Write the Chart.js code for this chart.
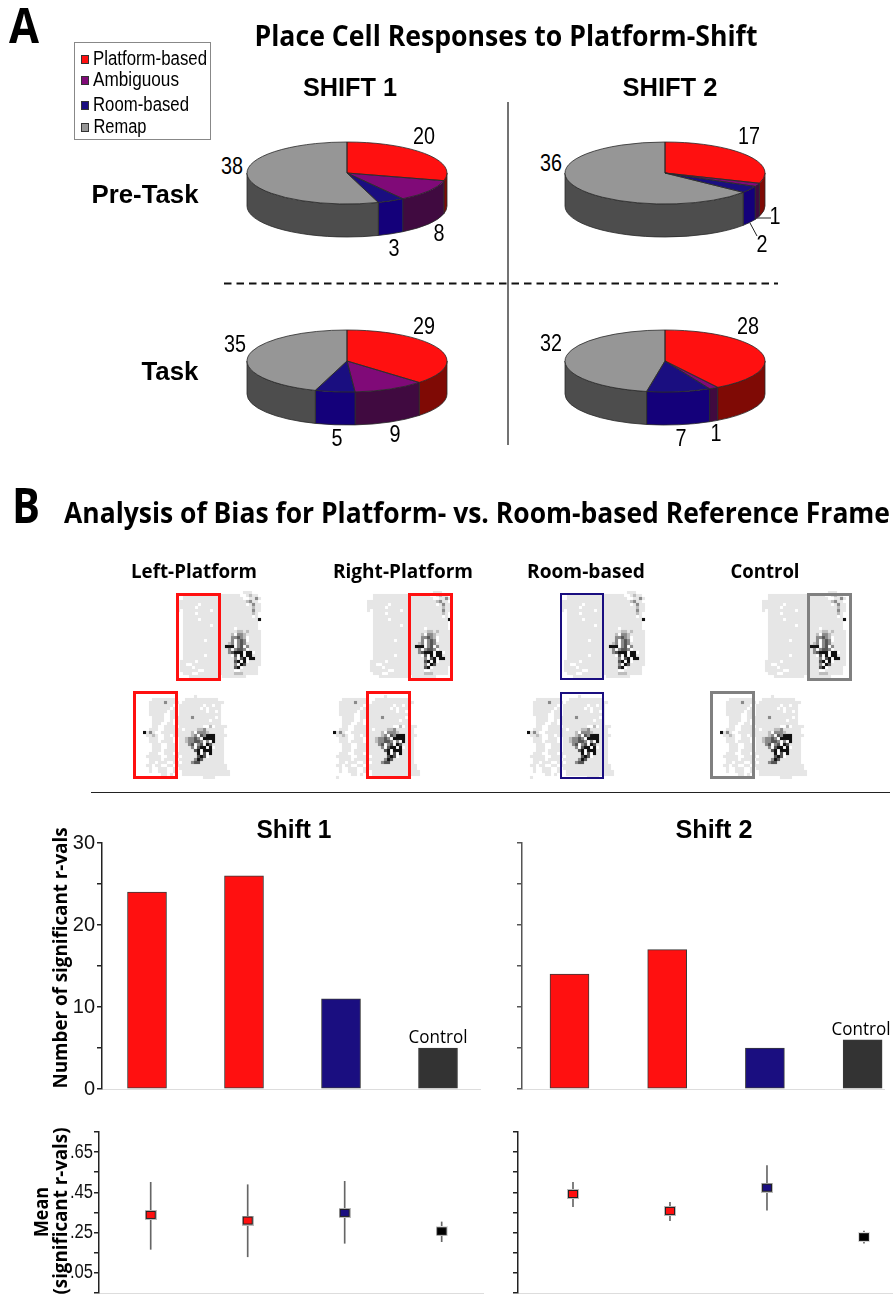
<!DOCTYPE html>
<html>
<head>
<meta charset="utf-8">
<title>Place Cell Responses to Platform-Shift</title>
<script src="https://cdn.jsdelivr.net/npm/chart.js@4/dist/chart.umd.js"></script>
<style>
    html, body { margin: 0; padding: 0; background: #fff; }
    #page { position: relative; width: 893px; height: 1298px; overflow: hidden; background: #fff; }
    #page canvas { position: absolute; }
    .txt { position: absolute; white-space: nowrap; line-height: 1; color: #000; }
    .box { position: absolute; box-sizing: border-box; }
</style>
</head>
<body>
<div id="page"></div>
<script>
// pie data
const pieCategories = ["Platform-based", "Ambiguous", "Room-based", "Remap"];
const preTaskShift1 = [20, 8, 3, 38];
const preTaskShift2 = [17, 1, 2, 36];
const taskShift1 = [29, 9, 5, 35];
const taskShift2 = [28, 1, 7, 32];

// bar data
const barCategories = ["Left-Platform", "Right-Platform", "Room-based", "Control"];
const barShift1 = [24, 26, 11, 5];
const barShift2 = [14, 17, 5, 6];
const barTickLabels = [0, 10, 20, 30];

// mean r-val data
const meanShift1 = [0.338, 0.31, 0.348, 0.257];
const lowShift1 = [0.167, 0.13, 0.197, 0.205];
const highShift1 = [0.5, 0.488, 0.505, 0.303];
const meanShift2 = [0.442, 0.358, 0.473, 0.228];
const lowShift2 = [0.379, 0.309, 0.362, 0.198];
const highShift2 = [0.5, 0.4, 0.583, 0.258];
const meanTickValues = [0.05, 0.25, 0.45, 0.65];
const meanTickLabels = [".05", ".25", ".45", ".65"];

// firing rate maps, one char per cell: blank = not visited, . = visited, 1-4 = rate
const mapTop = [
    "                      ...   ",
    "  ...................  .1.. ",
    "  ....................  ..2.",
    ".......................12..",
    "....... ............... .2..",
    "...... ..................1..",
    ". ......... .............2..",
    "  .... ..................1. ",
    "  ....................... . ",
    "  ..... ...................4",
    "  .........................",
    "  ......... ............... ",
    "  ................. ....... ",
    "  ..................11.1....",
    "  ................1 221.....",
    "  ................22321 ....",
    "  ....... ........2 232 ....",
    "  ...............12 232.....",
    "  ..............444 23 2....",
    "  ...............2 2332 ....",
    "  ...............23444 44 ..",
    "  ....... ........ 3 4 44...",
    "  .................2 34 44..",
    " ..... ............34 4 ....",
    " ..  ..............2 43.....",
    " .... .............34 .....",
    " ......  ..........  ......",
    "  ...  ............111.....",
    "    .......... ........    ",
];
const mapBottom = [
    "                            ",
    "                 .          ",
    "   ........   ...........   ",
    "  .....2.... ..............",
    "  ........  ........ .. ..",
    "  ....... . ....... . ....",
    "  ...... .. ......... .. .",
    "  .....  .. ..............",
    "   ....  .......2....... .",
    "   ....  . ........... ...",
    "   ...  .. ...............",
    "   ..  .... ........  1 ....",
    "  ...  ...... ....112......",
    "4.2.  ..........1 2221.....",
    " ..1.  .. ......12 32444....",
    "  ...  ...  ..12232 4444...",
    "  ... ....  ..122332 2 4...",
    "   ...  ... ...23 23 43....",
    "   ...  ... ....2 344 4 ...",
    "   ... .... .....34 444....",
    "  ...  ... .......4 3 4....",
    " .....  .... .....343 .....",
    "  .... .... .....243.......",
    "  .. ...  .. ...233........",
    " .. ..  .. .................",
    "  .  ...  . ................",
    "  .  ...  .  ................",
    "      .. .   ................",
    " .                  ....    ",
];

const RED = "#ff1010";
const PURPLE = "#800a78";
const NAVY = "#1a0e80";
const GRAY = "#969696";
const pieColors = [RED, PURPLE, NAVY, GRAY];
const pieSideColors = ["#7f0a05", "#400a40", "#14007a", "#4d4d4d"];
const barColors = [RED, RED, NAVY, "#333333"];
const mapColors = { ".": "#e6e6e6", "1": "#bdbdbd", "2": "#8a8a8a", "3": "#555555", "4": "#111111" };

const SANS = '"Liberation Sans", Arial, sans-serif';
const OPEN = '"Open Sans", sans-serif';

Chart.defaults.animation = false;
Chart.defaults.events = [];
Chart.defaults.plugins.legend.display = false;
Chart.defaults.plugins.tooltip.enabled = false;
Chart.defaults.responsive = false;
Chart.defaults.maintainAspectRatio = false;

const page = document.getElementById("page");

function addCanvas(left, top, width, height) {
    const c = document.createElement("canvas");
    c.width = width;
    c.height = height;
    c.style.left = left + "px";
    c.style.top = top + "px";
    c.style.width = width + "px";
    c.style.height = height + "px";
    page.appendChild(c);
    return c;
}

// text is centred on cx,cy and stretched to targetWidth
function addText(text, cx, cy, size, weight, family, targetWidth, rotate) {
    const s = document.createElement("span");
    s.className = "txt";
    s.textContent = text;
    s.style.fontSize = size + "px";
    s.style.fontWeight = weight;
    s.style.fontFamily = family;
    s.style.left = cx + "px";
    s.style.top = cy + "px";
    page.appendChild(s);
    const sx = targetWidth ? targetWidth / s.getBoundingClientRect().width : 1;
    s.style.transform = `translate(-50%,-50%) rotate(${rotate || 0}deg) scaleX(${sx})`;
}

function addBox(left, top, width, height, css) {
    const d = document.createElement("div");
    d.className = "box";
    d.style.left = left + "px";
    d.style.top = top + "px";
    d.style.width = width + "px";
    d.style.height = height + "px";
    d.style.cssText += css;
    page.appendChild(d);
    return d;
}

// pie section
const SQUASH = 0.31;
const DEPTH = 33;

const piePlugin = {
    id: "pie3d",
    beforeDatasetsDraw(chart) {
        const ctx = chart.ctx;
        const arcs = chart.getDatasetMeta(0).data;
        const { x, y, outerRadius: r } = arcs[0];
        ctx.save();
        arcs.forEach((arc, i) => {
            const a = Math.max(arc.startAngle, 0);
            const b = Math.min(arc.endAngle, Math.PI);
            if (a >= b) return;
            ctx.beginPath();
            ctx.ellipse(x, y, r, r * SQUASH, 0, a, b);
            ctx.ellipse(x, y + DEPTH, r, r * SQUASH, 0, b, a, true);
            ctx.closePath();
            ctx.fillStyle = pieSideColors[i];
            ctx.fill();
            ctx.lineWidth = 0.8;
            ctx.strokeStyle = "#2a2a2a";
            ctx.stroke();
        });
        ctx.restore();
        ctx.save();
        ctx.translate(x, y);
        ctx.scale(1, SQUASH);
        ctx.translate(-x, -y);
    },
    afterDatasetsDraw(chart) {
        const ctx = chart.ctx;
        ctx.restore();
        const arcs = chart.getDatasetMeta(0).data;
        ctx.save();
        ctx.lineWidth = 0.8;
        ctx.strokeStyle = "#2a2a2a";
        arcs.forEach((arc) => {
            ctx.beginPath();
            ctx.moveTo(arc.x, arc.y);
            ctx.ellipse(arc.x, arc.y, arc.outerRadius, arc.outerRadius * SQUASH, 0, arc.startAngle, arc.endAngle);
            ctx.closePath();
            ctx.stroke();
        });
        ctx.restore();
    },
};

function drawPie(values, cx, cy) {
    const canvas = addCanvas(cx - 102, cy - 102, 204, 204);
    new Chart(canvas, {
        type: "pie",
        data: {
            labels: pieCategories,
            datasets: [{ data: values, backgroundColor: pieColors, borderWidth: 0 }],
        },
        options: { layout: { padding: 2 } },
        plugins: [piePlugin],
    });
}

drawPie(preTaskShift1, 347, 173);
drawPie(preTaskShift2, 665, 173);
drawPie(taskShift1, 347, 361);
drawPie(taskShift2, 665, 361);

function pieLabel(value, cx, cy) {
    addText(String(value), cx, cy, 23, 400, SANS, String(value).length * 11);
}
pieLabel(preTaskShift1[0], 424, 136);
pieLabel(preTaskShift1[1], 439, 233);
pieLabel(preTaskShift1[2], 394, 248);
pieLabel(preTaskShift1[3], 232, 166);
pieLabel(preTaskShift2[0], 749, 136);
pieLabel(preTaskShift2[1], 775, 216);
pieLabel(preTaskShift2[2], 762, 244);
pieLabel(preTaskShift2[3], 551, 163);
pieLabel(taskShift1[0], 424, 326);
pieLabel(taskShift1[1], 395, 434);
pieLabel(taskShift1[2], 337, 438);
pieLabel(taskShift1[3], 235, 344);
pieLabel(taskShift2[0], 748, 326);
pieLabel(taskShift2[1], 716, 433);
pieLabel(taskShift2[2], 681, 438);
pieLabel(taskShift2[3], 551, 343);

// leader lines, divider lines
page.insertAdjacentHTML("beforeend", `
<svg width="893" height="1298" style="position:absolute;left:0;top:0;pointer-events:none">
    <line x1="757" y1="218" x2="771" y2="218" stroke="#222" stroke-width="1"/>
    <line x1="750" y1="223" x2="757" y2="236" stroke="#222" stroke-width="1"/>
    <line x1="508" y1="102" x2="508" y2="445" stroke="#444" stroke-width="1.5"/>
    <line x1="224" y1="283.5" x2="778" y2="283.5" stroke="#111" stroke-width="2" stroke-dasharray="7.5 5"/>
    <line x1="91" y1="792.5" x2="890" y2="792.5" stroke="#222" stroke-width="1"/>
</svg>`);

// legend
addBox(74, 42, 137, 98, "border:1px solid #888;background:#fff;");
const legendY = [59, 80, 105, 127];
const legendW = [114, 86, 96, 53];
pieCategories.forEach((name, i) => {
    addBox(81, legendY[i] - 4, 8, 9, `background:${pieColors[i]};border:1px solid #333;`);
    addText(name, 93 + legendW[i] / 2, legendY[i] - 1, 20, 400, SANS, legendW[i]);
});

// headings
addText("A", 24, 24, 49, 700, OPEN, 30);
addText("B", 26, 504, 49, 700, OPEN, 28);
addText("Place Cell Responses to Platform-Shift", 506, 35, 28, 700, OPEN, 503);
addText("SHIFT 1", 350, 87, 25, 700, SANS, 94);
addText("SHIFT 2", 670, 87, 25, 700, SANS, 95);
addText("Pre-Task", 145, 194, 25, 700, SANS, 107);
addText("Task", 170, 371, 25, 700, SANS, 57);
addText("Analysis of Bias for Platform- vs. Room-based Reference Frame", 477, 512, 28, 700, OPEN, 826);
addText("Left-Platform", 194, 571, 19, 700, OPEN, 126);
addText("Right-Platform", 403, 571, 19, 700, OPEN, 140);
addText("Room-based", 586, 571, 19, 700, OPEN, 118);
addText("Control", 765, 571, 19, 700, OPEN, 69);
addText("Shift 1", 294, 829, 25, 700, SANS, 75);
addText("Shift 2", 714, 829, 25, 700, SANS, 77);
addText("Number of significant r-vals", 60, 958, 20, 700, OPEN, 261, -90);
addText("Mean", 41, 1212, 19, 700, OPEN, 50, -90);
addText("(significant r-vals)", 60, 1211, 19, 700, OPEN, 167, -90);
addText("Control", 438, 1036, 19, 400, OPEN, 59);
addText("Control", 861, 1028, 19, 400, OPEN, 59);

// firing rate maps
function mapDatasets(rows) {
    return Object.keys(mapColors).map((key) => {
        const cells = [];
        rows.forEach((row, r) => {
            row.split("").forEach((ch, c) => {
                if (ch === key) cells.push({ x: c, y: r });
            });
        });
        return { data: cells, backgroundColor: mapColors[key], pointStyle: "rect", pointRadius: 2.2, borderWidth: 0 };
    });
}

function drawMap(rows, left, top) {
    const canvas = addCanvas(left, top, 90, 87);
    canvas.style.filter = "blur(0.5px)";
    new Chart(canvas, {
        type: "scatter",
        data: { datasets: mapDatasets(rows) },
        options: {
            layout: { autoPadding: false },
            scales: {
                x: { display: false, min: -0.5, max: 29.5 },
                y: { display: false, min: -0.5, max: 28.5, reverse: true },
            },
        },
    });
}

[177, 367, 561, 762].forEach((left) => drawMap(mapTop, left, 591));
[143, 333, 527, 720].forEach((left) => drawMap(mapBottom, left, 692));

const frames = [
    [176, 593, 45, 88, RED, 3],
    [133, 691, 45, 88, RED, 3],
    [408, 593, 45, 88, RED, 3],
    [366, 691, 45, 88, RED, 3],
    [560, 593, 44, 87, NAVY, 2],
    [560, 692, 44, 87, NAVY, 2],
    [807, 593, 45, 88, "#808080", 3],
    [710, 691, 45, 88, "#808080", 3],
];
frames.forEach((f) => addBox(f[0], f[1], f[2], f[3], `border:${f[5]}px solid ${f[4]};`));

// bar charts
function drawBars(values, place) {
    const canvas = addCanvas(place.left, 823, place.width, 286);
    new Chart(canvas, {
        type: "bar",
        data: {
            datasets: [{
                label: "Number of significant r-vals",
                data: values.map((v, i) => ({ x: i, y: v })),
                backgroundColor: barColors,
                borderColor: "#3a3a3a",
                borderWidth: 1,
                barThickness: 39,
                borderSkipped: false,
            }],
        },
        options: {
            layout: { autoPadding: false, padding: { top: 20, bottom: 20, left: 0, right: place.padRight } },
            scales: {
                x: {
                    type: "linear",
                    offset: false,
                    min: place.xMin,
                    max: place.xMax,
                    grid: { display: false },
                    border: { color: "#dddddd", width: 1 },
                    ticks: { display: false },
                    afterFit: (scale) => { scale.height = 0; },
                },
                y: {
                    min: 0,
                    max: 30,
                    grid: { drawOnChartArea: false, tickLength: 5, color: place.axisColor, lineWidth: 1.5 },
                    border: { color: place.axisColor, width: 1.5 },
                    ticks: {
                        stepSize: 5,
                        autoSkip: false,
                        padding: 2,
                        color: "#111",
                        font: { family: SANS, size: 20 },
                        callback: (v) => (place.labels && barTickLabels.includes(v) ? v : ""),
                    },
                    afterFit: (scale) => { scale.width = place.yWidth; },
                },
            },
        },
    });
}

drawBars(barShift1, { left: 40, width: 450, padRight: 10, yWidth: 62, xMin: -0.464, xMax: 3.433, axisColor: "#222", labels: true });
drawBars(barShift2, { left: 490, width: 403, padRight: 9, yWidth: 32, xMin: -0.486, xMax: 3.219, axisColor: "#555", labels: false });

// mean r-val charts
function markerImage(color, halo) {
    const c = document.createElement("canvas");
    c.width = 12;
    c.height = 10;
    const g = c.getContext("2d");
    g.fillStyle = halo;
    g.fillRect(0, 0, 12, 10);
    g.fillStyle = "#222";
    g.fillRect(1, 1, 10, 8);
    g.fillStyle = color;
    g.fillRect(2, 2, 8, 6);
    return c;
}
const markerImages = [
    markerImage(RED, "#bbbbbb"),
    markerImage(RED, "#bbbbbb"),
    markerImage(NAVY, "#bbbbbb"),
    markerImage("#000000", "#dddddd"),
];

// the tick labels in the figure are condensed, chart ticks can't do that
const narrowTicksPlugin = {
    id: "narrowTicks",
    afterDraw(chart) {
        const ctx = chart.ctx;
        const scale = chart.scales.y;
        ctx.save();
        ctx.font = "20px " + SANS;
        ctx.fillStyle = "#111";
        ctx.textAlign = "right";
        ctx.textBaseline = "middle";
        meanTickValues.forEach((v, i) => {
            ctx.save();
            ctx.translate(scale.right - 6, scale.getPixelForValue(v));
            ctx.scale(0.83, 1);
            ctx.fillText(meanTickLabels[i], 0, 0);
            ctx.restore();
        });
        ctx.restore();
    },
};

function drawMeans(means, lows, highs, place) {
    const canvas = addCanvas(place.left, 1112, place.width, 195);
    new Chart(canvas, {
        type: "bar",
        data: {
            datasets: [
                {
                    type: "scatter",
                    data: means.map((v, i) => ({ x: i, y: v })),
                    pointStyle: markerImages,
                    pointRadius: 6,
                    order: 0,
                },
                {
                    type: "bar",
                    data: lows.map((v, i) => ({ x: i, y: [v, highs[i]] })),
                    backgroundColor: "#666666",
                    barThickness: 1,
                    order: 1,
                },
            ],
        },
        options: {
            layout: { autoPadding: false, padding: { top: 20, bottom: 14, left: 0, right: place.padRight } },
            scales: {
                x: {
                    type: "linear",
                    offset: false,
                    min: place.xMin,
                    max: place.xMax,
                    grid: { display: false },
                    border: { color: "#dddddd", width: 1 },
                    ticks: { display: false },
                    afterFit: (scale) => { scale.height = 0; },
                },
                y: {
                    min: -0.05,
                    max: 0.75,
                    grid: { drawOnChartArea: false, tickLength: 5, color: "#222", lineWidth: 1.5 },
                    border: { color: "#222", width: 1.5 },
                    ticks: {
                        stepSize: 0.1,
                        autoSkip: false,
                        padding: 1,
                        font: { size: 20 },
                        callback: () => "",
                    },
                    afterFit: (scale) => { scale.width = place.yWidth; },
                },
            },
        },
        plugins: place.labels ? [narrowTicksPlugin] : [],
    });
}

drawMeans(meanShift1, lowShift1, highShift1, { left: 40, width: 450, padRight: 7, yWidth: 59, xMin: -0.533, xMax: 3.426, labels: true });
drawMeans(meanShift2, lowShift2, highShift2, { left: 490, width: 403, padRight: 1, yWidth: 28, xMin: -0.567, xMax: 3.289, labels: false });
</script>
</body>
</html>
